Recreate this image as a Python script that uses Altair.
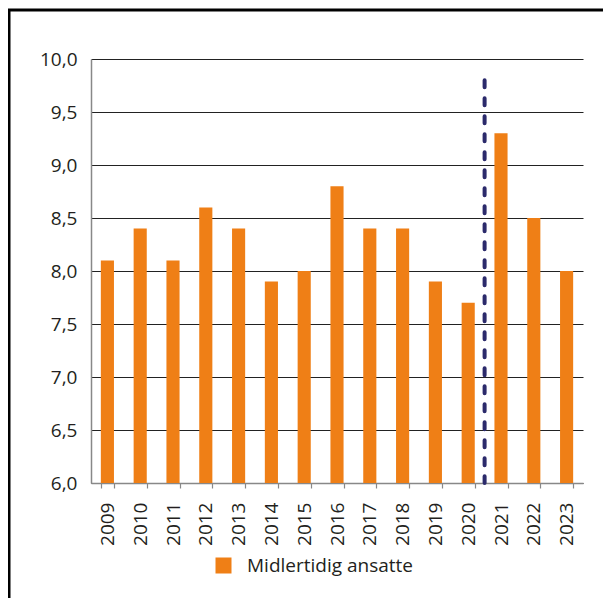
import altair as alt
import pandas as pd

years = ["2009", "2010", "2011", "2012", "2013", "2014", "2015", "2016",
         "2017", "2018", "2019", "2020", "2021", "2022", "2023"]
values = [8.1, 8.4, 8.1, 8.6, 8.4, 7.9, 8.0, 8.8, 8.4, 8.4, 7.9, 7.7, 9.3, 8.5, 8.0]
series_name = "Midlertidig ansatte"
baseline = 6.0
marker_year = ["2020"]
marker_top = [9.8]
marker_bottom = [6.0]

df = pd.DataFrame({"year": years, "value": values, "series": [series_name] * len(years)})
mk = pd.DataFrame({"year": marker_year, "top": marker_top, "bottom": marker_bottom})

FONT = "Open Sans"
TXT = "#231f20"

xscale = alt.Scale(domain=years, paddingInner=0.6, paddingOuter=0.3)
yscale = alt.Scale(domain=[6, 10], nice=False, zero=False)

bars = alt.Chart(df).mark_bar().encode(
    x=alt.X("year:N", scale=xscale, title=None,
            axis=alt.Axis(labelAngle=-90, labelAlign="right", labelBaseline="middle",
                          labelPadding=14, tickBand="extent", ticks=True, tickSize=5,
                          tickColor="#888888", domainColor="#888888", domainWidth=1.5,
                          tickWidth=1.2, labelFontSize=19, labelFont=FONT, labelColor=TXT,
                          grid=False)),
    y=alt.Y("value:Q", scale=yscale, title=None,
            axis=alt.Axis(values=[6, 6.5, 7, 7.5, 8, 8.5, 9, 9.5, 10],
                          labelExpr="replace(format(datum.value, '.1f'), '.', ',')",
                          ticks=False, labelPadding=14, labelFontSize=19, labelFont=FONT,
                          labelColor=TXT, domainColor="#888888", domainWidth=1.5,
                          grid=True, gridColor="#222222", gridWidth=1)),
    y2=alt.datum(baseline),
    color=alt.Color("series:N", scale=alt.Scale(range=["#EF7F16"]),
                    legend=alt.Legend(title=None, orient="none", legendX=123, legendY=497,
                                      symbolType="square", symbolSize=256,
                                      symbolStrokeWidth=0, labelFontSize=19,
                                      labelFont=FONT, labelColor=TXT, padding=0,
                                      labelOffset=14, labelLimit=0)),
)

marker = alt.Chart(mk).mark_rule(color="#2B2A6B", strokeWidth=4, strokeDash=[7, 11],
                                 strokeCap="round", xOffset=9.84).encode(
    x=alt.X("year:N", scale=xscale, bandPosition=1),
    y=alt.Y("top:Q", scale=yscale),
    y2="bottom:Q",
)

frame_left = alt.Chart(mk).mark_rule(color="#000000", strokeWidth=3, clip=False).encode(
    x=alt.value(-82), y=alt.value(-50), y2=alt.value(540))
frame_top = alt.Chart(mk).mark_rule(color="#000000", strokeWidth=3, clip=False).encode(
    x=alt.value(-83), x2=alt.value(520), y=alt.value(-49))

chart = alt.layer(bars, marker, frame_left, frame_top).properties(
    width=492, height=424,
    autosize=alt.AutoSizeParams(type="none"),
    padding={"left": 83, "top": 51, "right": 20, "bottom": 115},
).configure_view(stroke=None)

chart.save("out.html", embed_options={"renderer": "svg", "actions": False})
